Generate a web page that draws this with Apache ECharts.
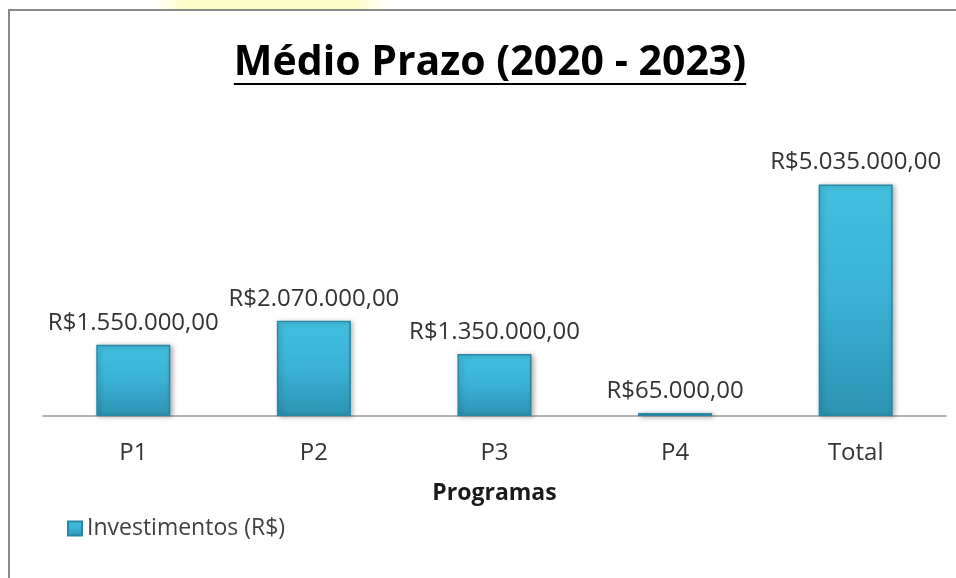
<!DOCTYPE html>
<html>
<head>
<meta charset="utf-8">
<style>
  html, body { margin: 0; padding: 0; background: #ffffff; }
  #chart { width: 956px; height: 578px; }
</style>
<script src="https://cdn.jsdelivr.net/npm/echarts@6/dist/echarts.min.js"></script>
</head>
<body>
<div id="chart"></div>
<script>
// Investment per programme, medium term
const categories = ['P1', 'P2', 'P3', 'P4', 'Total'];
const investimentos = [1550000, 2070000, 1350000, 65000, 5035000];
const seriesName = 'Investimentos (R$)';
const titleText = 'Médio Prazo (2020 - 2023)';
const axisName = 'Programas';

// Brazilian currency format: R$1.234.567,00
function brl(v) {
  const parts = Math.abs(v).toFixed(2).split('.');
  const intPart = parts[0].replace(/\B(?=(\d{3})+(?!\d))/g, '.');
  return 'R$' + intPart + ',' + parts[1];
}

const FONT = '"Open Sans", "Noto Sans", sans-serif';
const titleFont = 'bold 41px ' + FONT;

// measure title width so the underline follows the text
const ctx = document.createElement('canvas').getContext('2d');
ctx.font = titleFont;
const titleW = ctx.measureText(titleText).width;
const titleCx = 490;

const barGradient = new echarts.graphic.LinearGradient(0, 0, 0, 1, [
  { offset: 0, color: '#4ac6e6' },
  { offset: 0.03, color: '#43bfe0' },
  { offset: 0.5, color: '#3ab1d5' },
  { offset: 1, color: '#2d93b3' }
]);

const chart = echarts.init(document.getElementById('chart'), null, { renderer: 'canvas' });

chart.setOption({
  backgroundColor: '#ffffff',
  animation: false,
  graphic: [
    {
      type: 'rect', z: 0,
      shape: { x: 150, y: 0, width: 240, height: 9 },
      style: {
        fill: new echarts.graphic.LinearGradient(0, 0, 1, 0, [
          { offset: 0, color: 'rgba(252,252,200,0)' },
          { offset: 0.15, color: 'rgba(252,252,200,1)' },
          { offset: 0.85, color: 'rgba(252,252,200,1)' },
          { offset: 1, color: 'rgba(252,252,200,0)' }
        ])
      },
      silent: true
    },
    {
      type: 'rect', z: 1,
      shape: { x: 9, y: 10, width: 980, height: 620 },
      style: { fill: 'none', stroke: '#8a8a8a', lineWidth: 2 },
      silent: true
    },
    {
      type: 'text', z: 5,
      x: titleCx, y: 63,
      style: {
        text: titleText,
        font: titleFont,
        fill: '#000000',
        textAlign: 'center',
        textVerticalAlign: 'middle'
      }
    },
    {
      type: 'line', z: 5,
      shape: { x1: titleCx - titleW / 2, y1: 84, x2: titleCx + titleW / 2, y2: 84 },
      style: { stroke: '#000000', lineWidth: 2 }
    }
  ],
  legend: {
    data: [seriesName],
    left: 62,
    top: 512,
    icon: 'rect',
    itemWidth: 14,
    itemHeight: 14,
    itemGap: 6,
    textStyle: { fontFamily: FONT, fontSize: 23, color: '#404040' }
  },
  grid: { left: 43, right: 10, top: 140, bottom: 162, containLabel: false },
  xAxis: {
    type: 'category',
    data: categories,
    name: axisName,
    nameLocation: 'middle',
    nameGap: 66,
    nameTextStyle: { fontFamily: FONT, fontSize: 23, fontWeight: 'bold', color: '#1a1a1a' },
    axisLine: { lineStyle: { color: '#9a9a9a', width: 1.5 } },
    axisTick: { show: false },
    axisLabel: { fontFamily: FONT, fontSize: 24, color: '#333333', margin: 25 }
  },
  yAxis: {
    type: 'value',
    min: 0,
    max: 6000000,
    show: false,
    splitLine: { show: false }
  },
  series: [{
    name: seriesName,
    type: 'bar',
    data: investimentos,
    barWidth: '41%',
    itemStyle: {
      color: barGradient,
      borderColor: '#2a87a4',
      borderWidth: 1.5,
      shadowColor: 'rgba(0,0,0,0.3)',
      shadowBlur: 5,
      shadowOffsetX: 2,
      shadowOffsetY: 1
    },
    label: {
      show: true,
      position: 'top',
      distance: 10,
      fontFamily: FONT,
      fontSize: 24,
      color: '#333333',
      formatter: p => brl(p.value)
    }
  }]
});
</script>
</body>
</html>
